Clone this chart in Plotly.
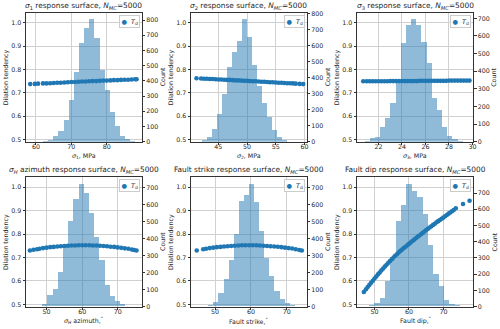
import plotly.graph_objects as go

# Monte-Carlo response surfaces, N_MC = 5000 per panel
# scatter: dilation tendency Td against each perturbed input
s1_x = [58.4, 59.7, 60.6, 62.0, 63, 64, 65, 66, 67, 68, 69, 70, 71, 72, 73, 74, 75,
        76, 77, 78, 79, 80, 81, 82, 83, 84, 85, 86, 87, 88, 88.4]
s1_td = [0.737, 0.738, 0.739, 0.740, 0.740, 0.741, 0.742, 0.743, 0.743, 0.744, 0.745,
         0.746, 0.746, 0.747, 0.748, 0.748, 0.749, 0.750, 0.750, 0.751, 0.752, 0.752,
         0.753, 0.754, 0.754, 0.755, 0.756, 0.756, 0.757, 0.758, 0.758]

s2_x = [41.2, 42.0, 42.5, 43.0, 43.5, 44.0, 44.5, 45.0, 45.5, 46.0, 46.5, 47.0, 47.5,
        48.0, 48.5, 49.0, 49.5, 50.0, 50.5, 51.0, 51.5, 52.0, 52.5, 53.0, 53.5, 54.0,
        54.5, 55.0, 55.5, 56.0, 56.5, 57.0, 57.5, 58.0, 58.5, 59.2, 59.8]
s2_td = [0.762, 0.761, 0.760, 0.760, 0.759, 0.759, 0.758, 0.757, 0.757, 0.756, 0.755,
         0.755, 0.754, 0.753, 0.753, 0.752, 0.751, 0.751, 0.750, 0.749, 0.749, 0.748,
         0.747, 0.747, 0.746, 0.745, 0.745, 0.744, 0.743, 0.743, 0.742, 0.741, 0.741,
         0.740, 0.739, 0.738, 0.737]

s3_x = [20.7, 21.0, 21.25, 21.5, 21.75, 22.0, 22.25, 22.5, 22.75, 23.0, 23.25, 23.5,
        23.75, 24.0, 24.25, 24.5, 24.75, 25.0, 25.25, 25.5, 25.75, 26.0, 26.25, 26.5,
        26.75, 27.0, 27.25, 27.5, 27.75, 28.0, 28.25, 28.5, 28.75, 29.0, 29.25, 29.5, 29.75]
s3_td = [0.749, 0.749, 0.749, 0.749, 0.749, 0.749, 0.749, 0.749, 0.749, 0.750, 0.750,
         0.750, 0.750, 0.750, 0.750, 0.750, 0.750, 0.750, 0.750, 0.751, 0.751, 0.751,
         0.751, 0.751, 0.751, 0.751, 0.751, 0.751, 0.751, 0.752, 0.752, 0.752, 0.752,
         0.752, 0.752, 0.752, 0.752]

s4_x = [45.3, 46.3, 47.3, 48, 49, 50, 51, 52, 53, 54, 55, 56, 57, 58, 59, 60, 61, 62,
        63, 64, 65, 66, 67, 68, 69, 70, 71, 72, 73, 74, 74.6, 75.3]
s4_td = [0.730, 0.733, 0.735, 0.737, 0.740, 0.742, 0.744, 0.745, 0.747, 0.748, 0.749,
         0.750, 0.751, 0.751, 0.752, 0.752, 0.752, 0.752, 0.751, 0.751, 0.750, 0.749,
         0.748, 0.746, 0.745, 0.743, 0.741, 0.739, 0.737, 0.734, 0.732, 0.730]

s5_x = [44.9, 46.7, 47.5, 48.5, 49.5, 50.5, 51.5, 52.5, 53.5, 54.5, 55.5, 56.5, 57.5,
        58.5, 59.5, 60.5, 61.5, 62.5, 63.5, 64.5, 65.5, 66.5, 67.5, 68.5, 69.5, 70.5,
        71.5, 72.5, 73.5, 74.2]
s5_td = [0.730, 0.735, 0.737, 0.740, 0.742, 0.744, 0.745, 0.747, 0.748, 0.749, 0.750,
         0.751, 0.752, 0.752, 0.752, 0.752, 0.752, 0.751, 0.750, 0.749, 0.748, 0.747,
         0.746, 0.744, 0.742, 0.740, 0.738, 0.735, 0.732, 0.730]

s6_x = [46.9, 47.5, 48.0, 48.5, 49.0, 49.5, 50.0, 50.5, 51.0, 51.5, 52.0, 52.5, 53.0,
        53.5, 54.0, 54.5, 55.0, 55.5, 56.0, 56.5, 57.0, 57.5, 58.0, 58.5, 59.0, 59.5,
        60.0, 60.5, 61.0, 61.5, 62.0, 62.5, 63.0, 63.5, 64.0, 64.5, 65.0, 65.5, 66.0,
        66.5, 67.0, 67.5, 68.0, 68.5, 69.0, 69.5, 70.0, 70.5, 71.0, 71.5, 72.0, 72.5,
        73.0, 73.6, 75.7, 77.6]
s6_td = [0.553, 0.564, 0.574, 0.583, 0.592, 0.601, 0.610, 0.619, 0.628, 0.636, 0.645,
         0.653, 0.661, 0.669, 0.677, 0.685, 0.692, 0.700, 0.707, 0.714, 0.721, 0.728,
         0.734, 0.740, 0.746, 0.752, 0.758, 0.764, 0.770, 0.776, 0.782, 0.788, 0.794,
         0.799, 0.805, 0.811, 0.817, 0.822, 0.828, 0.833, 0.839, 0.844, 0.850, 0.855,
         0.860, 0.865, 0.870, 0.876, 0.881, 0.887, 0.892, 0.897, 0.902, 0.910, 0.928, 0.942]

# histograms of the sampled inputs: first bin edge, bin width, counts
h1_start, h1_width = 62.0, 1.45
h1_counts = [4, 12, 35, 70, 140, 275, 460, 650, 750, 805, 680, 470, 340, 192, 104, 38, 15, 5]
h2_start, h2_width = 42.2, 0.87
h2_counts = [10, 31, 79, 170, 300, 464, 560, 630, 763, 650, 480, 345, 240, 152, 73, 31, 10]
h3_start, h3_width = 20.82, 0.44
h3_counts = [5, 19, 28, 85, 132, 220, 340, 560, 662, 694, 662, 567, 444, 246, 180, 85, 32, 13, 5]
h4_start, h4_width = 48.78, 1.46
h4_counts = [15, 65, 104, 200, 350, 500, 632, 716, 665, 550, 407, 270, 127, 62, 32, 13]
h5_start, h5_width = 48.1, 1.42
h5_counts = [10, 28, 76, 158, 274, 425, 618, 656, 716, 615, 440, 285, 180, 90, 42, 22, 10]
h6_start, h6_width = 48.35, 1.56
h6_counts = [6, 20, 53, 156, 290, 526, 622, 751, 710, 673, 571, 376, 201, 123, 41, 16, 6]

titles = ["<i>σ</i><sub>1</sub> response surface, <i>N</i><sub><i>MC</i></sub>=5000",
          "<i>σ</i><sub>2</sub> response surface, <i>N</i><sub><i>MC</i></sub>=5000",
          "<i>σ</i><sub>3</sub> response surface, <i>N</i><sub><i>MC</i></sub>=5000",
          "<i>σ</i><sub><i>H</i></sub> azimuth response surface, <i>N</i><sub><i>MC</i></sub>=5000",
          "Fault strike response surface, <i>N</i><sub><i>MC</i></sub>=5000",
          "Fault dip response surface, <i>N</i><sub><i>MC</i></sub>=5000"]
xlabels = ["<i>σ</i><sub>1</sub>, MPa", "<i>σ</i><sub>2</sub>, MPa", "<i>σ</i><sub>3</sub>, MPa",
           "<i>σ</i><sub><i>H</i></sub> azimuth,<sup>°</sup>", "Fault strike,<sup>°</sup>",
           "Fault dip,<sup>°</sup>"]
xticks = [[60, 70, 80], [45, 50, 55, 60], [22, 24, 26, 28, 30], [50, 60, 70], [50, 60, 70], [50, 60, 70]]
td_ticks = [0.5, 0.6, 0.7, 0.8, 0.9, 1.0]

panels = [
    dict(x=s1_x, td=s1_td, h0=h1_start, hw=h1_width, counts=h1_counts, xr=[57.2, 89.8], cmax=846),
    dict(x=s2_x, td=s2_td, h0=h2_start, hw=h2_width, counts=h2_counts, xr=[40.24, 60.37], cmax=802),
    dict(x=s3_x, td=s3_td, h0=h3_start, hw=h3_width, counts=h3_counts, xr=[20.17, 30.05], cmax=730),
    dict(x=s4_x, td=s4_td, h0=h4_start, hw=h4_width, counts=h4_counts, xr=[44.2, 76.7], cmax=759),
    dict(x=s5_x, td=s5_td, h0=h5_start, hw=h5_width, counts=h5_counts, xr=[43.3, 75.5], cmax=759),
    dict(x=s6_x, td=s6_td, h0=h6_start, hw=h6_width, counts=h6_counts, xr=[44.9, 78.6], cmax=797),
]

W, H = 500, 329
BLUE = "#1f77b4"
TXT = "#262626"
FONT = "DejaVu Sans"
col_px = [(26, 141.5), (191, 306.5), (357, 473)]
row_px = [(13, 141.7), (177.3, 306.7)]

fig = go.Figure()
layout = {}
annotations = []
axis_common = dict(showline=True, linecolor="#333", linewidth=1, ticks="outside", ticklen=2.5,
                   tickcolor="#333", tickfont=dict(size=6.3, color=TXT), zeroline=False,
                   automargin=False)


def label(text, x, y, angle=0, size=6.3):
    annotations.append(dict(text=text, xref="paper", yref="paper", x=x / W, y=1 - y / H,
                            xanchor="center", yanchor="middle", showarrow=False,
                            textangle=angle, font=dict(size=size, color=TXT)))


for k, p in enumerate(panels):
    r, c = divmod(k, 3)
    left, right = col_px[c]
    top, bottom = row_px[r]
    dx = [left / W, right / W]
    dy = [1 - bottom / H, 1 - top / H]
    xn = "" if k == 0 else str(k + 1)
    yp = "" if k == 0 else str(2 * k + 1)
    ys = str(2 * k + 2)

    fig.add_trace(go.Scatter(x=p["x"], y=p["td"], mode="markers",
                             marker=dict(color=BLUE, size=4.6, line_width=0),
                             xaxis="x" + xn, yaxis="y" + yp, showlegend=False))
    centers = [p["h0"] + p["hw"] * (i + 0.5) for i in range(len(p["counts"]))]
    fig.add_trace(go.Bar(x=centers, y=p["counts"], width=p["hw"],
                         marker=dict(color="rgba(31,119,180,0.5)", line_width=0),
                         xaxis="x" + xn, yaxis="y" + ys, showlegend=False))

    layout["xaxis" + xn] = dict(axis_common, domain=dx, anchor="y" + yp, range=p["xr"],
                                tickvals=xticks[k], mirror=True, showgrid=True,
                                gridcolor="#d0d0d0", gridwidth=1, ticklabelstandoff=-4)
    layout["yaxis" + yp] = dict(axis_common, domain=dy, anchor="x" + xn, range=[0.49, 1.042],
                                tickvals=td_ticks, ticktext=["0.5", "0.6", "0.7", "0.8", "0.9", "1.0"],
                                showgrid=True, gridcolor="#d0d0d0", gridwidth=1)
    layout["yaxis" + ys] = dict(axis_common, overlaying="y" + yp, side="right", anchor="x" + xn,
                                range=[0, p["cmax"]], dtick=100, showgrid=False)

    mid_x = (left + right) / 2
    mid_y = (top + bottom) / 2
    label(titles[k], mid_x, top - 7, size=7.4)
    label(xlabels[k], mid_x, bottom + 13.8)
    label("Dilation tendency", left - 20, mid_y, angle=-90)
    label("Count", right + 20.5, mid_y, angle=-90)

    # legend box (upper right)
    annotations.append(dict(text='<span style="color:#1f77b4">●</span>  <i>T</i><sub>d</sub>',
                            xref="paper", yref="paper", x=(right - 2) / W, y=1 - (top + 2) / H,
                            xanchor="right", yanchor="top", showarrow=False,
                            font=dict(size=6.3, color=TXT), bgcolor="rgba(255,255,255,0.8)",
                            bordercolor="#cccccc", borderwidth=1, borderpad=1.5))

fig.update_layout(**layout)
fig.update_layout(
    width=W, height=H, margin=dict(l=0, r=0, t=0, b=0),
    plot_bgcolor="white", paper_bgcolor="white",
    font=dict(family=FONT, color=TXT),
    annotations=annotations, bargap=0,
)
# the page body has an 8px default margin; drop it so the figure fills the window
fig.write_html("out.html", config={"displayModeBar": False},
               post_script="document.body.style.margin='0';")
